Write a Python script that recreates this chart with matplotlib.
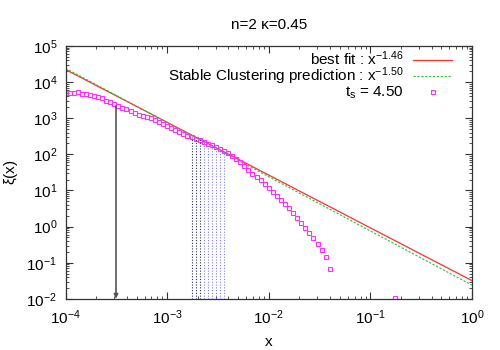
import numpy as np
import matplotlib
matplotlib.use('Agg')
import matplotlib.pyplot as plt
from matplotlib.ticker import LogLocator, NullFormatter

plt.rcParams['font.family'] = ['Liberation Sans', 'DejaVu Sans']
plt.rcParams['mathtext.fontset'] = 'custom'
plt.rcParams['mathtext.rm'] = 'Liberation Sans'
plt.rcParams['mathtext.it'] = 'Liberation Sans'

logx = [-4.00, -3.96, -3.92, -3.88, -3.84, -3.80, -3.76, -3.72, -3.68, -3.64,
        -3.60, -3.56, -3.52, -3.48, -3.44, -3.40, -3.36, -3.32, -3.28, -3.24,
        -3.20, -3.16, -3.12, -3.08, -3.04, -3.00, -2.96, -2.92, -2.88, -2.84,
        -2.80, -2.76, -2.72, -2.68, -2.64, -2.60, -2.56, -2.52, -2.48, -2.44,
        -2.40, -2.36, -2.32, -2.28, -2.24, -2.20, -2.16, -2.12, -2.08, -2.04,
        -2.00, -1.96, -1.92, -1.88, -1.84, -1.80, -1.76, -1.72, -1.68, -1.64,
        -1.60, -1.56, -1.52, -1.48, -1.44, -1.40, -0.76]
xi = [4910, 4910, 5010, 5240, 4700, 4520, 4350, 4190, 3830, 3525,
      3065, 2730, 2440, 2150, 1925, 1740, 1570, 1400, 1256, 1148,
      1057, 979, 873, 779, 686, 611, 538, 474, 417, 367,
      327, 298, 267, 241, 218, 197, 177, 157, 141, 124,
      107, 88.7, 73.8, 61.7, 47.8, 36.6, 28.7, 23.1, 18.9, 14.9,
      11.7, 9.12, 7.03, 5.37, 4.22, 3.18, 2.35, 1.73, 1.24, 0.897,
      0.670, 0.481, 0.320, 0.232, 0.147, 0.068, 0.0103]

# power laws
fit_amp, fit_slope = 0.032, -1.46
sc_amp, sc_slope = 0.024, -1.50

# marked scales
arrow_x = 3.14e-4
arrow_top = 2200
dotted_idx = [31, 32, 33, 34, 35, 36, 37, 38, 39]

x = 10.0 ** np.array(logx)
y = np.array(xi)
xl = np.logspace(-4, 0, 200)

fs = 11

fig = plt.figure(figsize=(5, 3.5), dpi=100)
ax = fig.add_axes([0.131, 0.146, 0.813, 0.723])

ax.plot(xl, fit_amp * xl ** fit_slope, color='#ff3030', lw=0.9,
        label=r'best fit : x$^{-1.46}$')
ax.plot(xl, sc_amp * xl ** sc_slope, color='#30c030', lw=0.8, ls=(0, (2, 1.5)),
        label=r'Stable Clustering prediction : x$^{-1.50}$')
ax.plot(x, y, ls='none', marker='s', ms=2.8, mfc='none', mec='#ff30ff',
        mew=0.8, label=r't$_{\rm s}$ = 4.50')

for k, i in enumerate(dotted_idx):
    c = '#303060' if k < 3 else '#8080f0'
    ax.vlines(x[i], 0.01, y[i], colors=c, linestyles=(0, (1, 1.5)), lw=0.8)

ax.annotate('', xy=(arrow_x, 0.0101), xytext=(arrow_x, arrow_top),
            arrowprops=dict(arrowstyle='-|>', color='#555555', lw=1.2,
                            mutation_scale=6, shrinkA=0, shrinkB=0))

ax.set_xscale('log')
ax.set_yscale('log')
ax.set_xlim(1e-4, 1)
ax.set_ylim(1e-2, 1e5)
ax.xaxis.set_major_locator(LogLocator(base=10, numticks=10))
ax.xaxis.set_minor_locator(LogLocator(base=10, subs=np.arange(2, 10), numticks=20))
ax.xaxis.set_minor_formatter(NullFormatter())
ax.yaxis.set_major_locator(LogLocator(base=10, numticks=10))
ax.yaxis.set_minor_locator(LogLocator(base=10, subs=np.arange(2, 10), numticks=20))
ax.yaxis.set_minor_formatter(NullFormatter())
ax.tick_params(which='both', direction='in', top=True, right=True,
               labelsize=fs, color='#333333')
ax.tick_params(which='major', length=5, width=0.8)
ax.tick_params(which='minor', length=2.5, width=0.6)
ax.tick_params(axis='x', which='major', pad=7)
ax.tick_params(axis='y', which='major', pad=6)
for s in ax.spines.values():
    s.set_linewidth(0.9)
    s.set_color('#333333')

ax.set_xlabel('x', fontsize=fs)
ax.set_ylabel(r'$\xi$(x)', fontsize=fs)
ax.xaxis.set_label_coords(0.5, -0.142)
ax.yaxis.set_label_coords(-0.112, 0.5)
ax.set_title('n=2 κ=0.45', fontsize=fs, pad=12)

ax.legend(loc='upper right', bbox_to_anchor=(0.967, 1.01), frameon=False,
          markerfirst=False, fontsize=fs, handlelength=2.6, numpoints=1,
          labelspacing=-0.15, borderaxespad=0.1, handletextpad=0.6,
          borderpad=0.3)

fig.savefig('out.png', dpi=100)
